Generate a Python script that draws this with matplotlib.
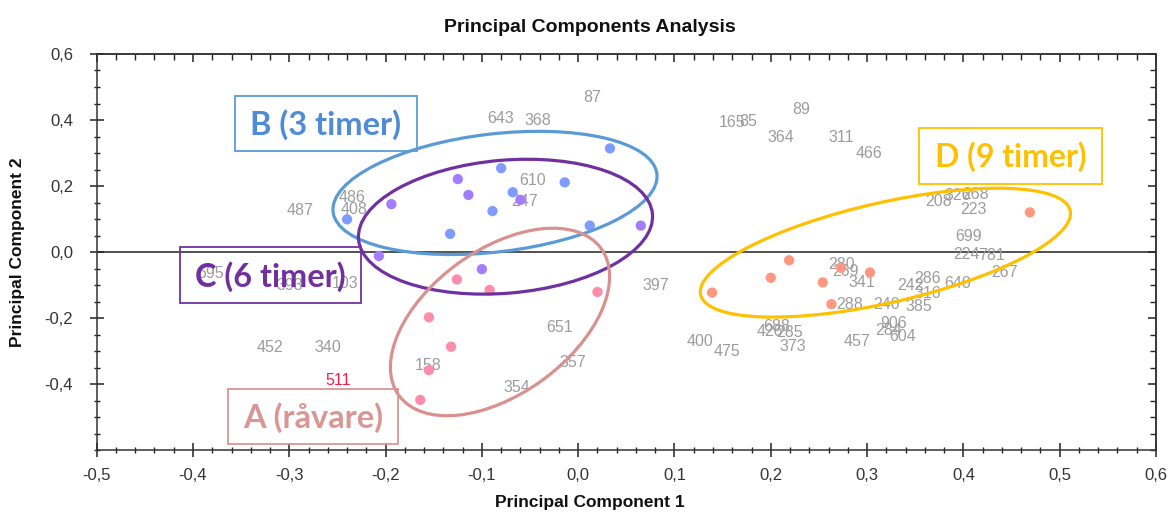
import matplotlib
matplotlib.use("Agg")
import matplotlib.pyplot as plt
from matplotlib.patches import Ellipse, Rectangle
from matplotlib.ticker import MultipleLocator, FixedLocator, FuncFormatter
from matplotlib.transforms import ScaledTranslation

# ---------------- data ----------------
b_x = [0.033, -0.080, -0.014, -0.068, -0.089, 0.012, -0.133, -0.240]
b_y = [0.314, 0.254, 0.211, 0.181, 0.124, 0.080, 0.055, 0.099]

c_x = [-0.125, -0.114, -0.194, -0.060, 0.065, -0.207, -0.100]
c_y = [0.221, 0.173, 0.145, 0.158, 0.080, -0.012, -0.052]

a_x = [-0.126, -0.092, 0.020, -0.155, -0.132, -0.155, -0.164]
a_y = [-0.083, -0.115, -0.121, -0.198, -0.287, -0.358, -0.448]

d_x = [0.139, 0.200, 0.219, 0.254, 0.263, 0.273, 0.303, 0.469]
d_y = [-0.123, -0.078, -0.025, -0.092, -0.158, -0.048, -0.062, 0.120]

lab_text = ["643", "368", "87", "610", "247", "486", "408", "487",
            "165", "85", "89", "364", "311", "466",
            "208", "326", "268", "223", "699", "224", "781", "267",
            "640", "286", "242", "316", "385", "397", "400", "475",
            "280", "269", "341", "288", "240", "906", "284", "604",
            "688", "426", "285", "373", "457",
            "651", "357", "158", "354", "695", "393", "103", "452", "340"]
lab_x = [-0.081, -0.042, 0.015, -0.047, -0.056, -0.235, -0.233, -0.289,
         0.160, 0.176, 0.232, 0.210, 0.273, 0.302,
         0.374, 0.394, 0.413, 0.410, 0.405, 0.403, 0.429, 0.443,
         0.394, 0.363, 0.345, 0.363, 0.354, 0.081, 0.126, 0.155,
         0.274, 0.278, 0.295, 0.282, 0.320, 0.327, 0.322, 0.337,
         0.206, 0.199, 0.220, 0.223, 0.289,
         -0.019, -0.006, -0.156, -0.064, -0.382, -0.299, -0.242, -0.320, -0.260]
lab_y = [0.406, 0.397, 0.467, 0.218, 0.152, 0.164, 0.130, 0.127,
         0.391, 0.394, 0.433, 0.348, 0.348, 0.297,
         0.152, 0.170, 0.173, 0.130, 0.048, -0.009, -0.012, -0.061,
         -0.094, -0.079, -0.100, -0.127, -0.164, -0.103, -0.270, -0.303,
         -0.039, -0.058, -0.091, -0.158, -0.158, -0.218, -0.239, -0.255,
         -0.227, -0.242, -0.245, -0.285, -0.270,
         -0.230, -0.336, -0.345, -0.412, -0.064, -0.100, -0.094, -0.288, -0.288]

red_text = "511"
red_x, red_y = -0.249, -0.388

x_ticks = [-0.5, -0.4, -0.3, -0.2, -0.1, 0.0, 0.1, 0.2, 0.3, 0.4, 0.5, 0.6]
y_ticks = [-0.4, -0.2, 0.0, 0.2, 0.4, 0.6]

title = "Principal Components Analysis"
xlabel = "Principal Component 1"
ylabel = "Principal Component 2"

# ---------------- figure ----------------
W, H = 1176, 515
fig = plt.figure(figsize=(W / 100, H / 100), dpi=100)
L, R, T, B = 96.7, 1156, 54, 450
ax = fig.add_axes([L / W, 1 - B / H, (R - L) / W, (B - T) / H])
ax.set_xlim(-0.5, 0.6)
ax.set_ylim(-0.6, 0.6)

tick_font = dict(family="Liberation Sans", size=12)
fmt = FuncFormatter(lambda v, p: ("%.1f" % v).replace(".", ",").replace("-0,0", "0,0"))
ax.xaxis.set_major_locator(FixedLocator(x_ticks))
ax.yaxis.set_major_locator(FixedLocator(y_ticks))
ax.xaxis.set_minor_locator(MultipleLocator(0.02))
ax.yaxis.set_minor_locator(MultipleLocator(0.05))
ax.xaxis.set_major_formatter(fmt)
ax.yaxis.set_major_formatter(fmt)
ax.tick_params(which="major", direction="inout", length=10, width=1.1, color="#222222",
               labelsize=12, labelcolor="#333333")
ax.tick_params(axis="x", which="major", pad=8)
ax.tick_params(axis="y", which="major", pad=12)
ax.tick_params(which="minor", direction="inout", length=5, width=1.0, color="#222222")
for lbl in ax.get_xticklabels() + ax.get_yticklabels():
    lbl.set_fontfamily("Liberation Sans")
for s in ax.spines.values():
    s.set_linewidth(1.1)
    s.set_color("#333333")

# top / right inward ticks
sx = ax.secondary_xaxis("top")
sx.xaxis.set_major_locator(FixedLocator(x_ticks))
sx.xaxis.set_minor_locator(MultipleLocator(0.02))
sx.tick_params(which="major", direction="in", length=6, width=1.1, color="#222222", labeltop=False)
sx.tick_params(which="minor", direction="in", length=4, width=1.0, color="#222222")
sy = ax.secondary_yaxis("right")
sy.yaxis.set_major_locator(FixedLocator(y_ticks))
sy.yaxis.set_minor_locator(MultipleLocator(0.05))
sy.tick_params(which="major", direction="in", length=6, width=1.1, color="#222222", labelright=False)
sy.tick_params(which="minor", direction="in", length=4, width=1.0, color="#222222")
for s in list(sx.spines.values()) + list(sy.spines.values()):
    s.set_linewidth(1.1)
    s.set_color("#333333")

ax.axhline(0, color="#222222", lw=1.1, zorder=1)

# labels
for t, x, y in zip(lab_text, lab_x, lab_y):
    ax.text(x, y, t, ha="center", va="center", fontsize=11.5, family="Liberation Sans",
            color="#9c9c9c", zorder=2)
ax.text(red_x, red_y, red_text, ha="center", va="center", fontsize=11.5,
        family="Liberation Sans", color="#ff1a4d", zorder=2)

# points
ms = 55
ax.scatter(b_x, b_y, s=ms, color="#7f9bff", edgecolors="none", zorder=3)
ax.scatter(c_x, c_y, s=ms, color="#a27dff", edgecolors="none", zorder=3)
ax.scatter(a_x, a_y, s=ms, color="#ff8daa", edgecolors="none", zorder=3)
ax.scatter(d_x, d_y, s=ms, color="#ff9880", edgecolors="none", zorder=3)

# ellipses: centre in data coords, size in pixels
ellipses = [
    ((-0.0864, 0.179), 326, 118, 6.7, "#5b9bd5"),
    ((-0.0755, 0.0767), 295, 133, 4.9, "#7030a0"),
    ((-0.0812, -0.212), 250, 144, 36.0, "#d8918e"),
    ((0.319, -0.002), 379, 100, 12.85, "#ffc000"),
]
for (cx, cy), w, h, ang, col in ellipses:
    tr = fig.dpi_scale_trans + ScaledTranslation(cx, cy, ax.transData)
    e = Ellipse((0, 0), w / 100, h / 100, angle=ang, transform=tr, fill=False,
                edgecolor=col, lw=2.3, zorder=4)
    ax.add_patch(e)

# group boxes (pixel coords)
boxes = [
    ("B (3 timer)", (235, 95.7, 416.7, 150.7), 151, "#5b9bd5", "#4f8bd6"),
    ("C (6 timer)", (180, 247.3, 360.7, 303.3), 150, "#7030a0", "#7030a0"),
    ("A (råvare)", (228, 389, 398, 444), 140, "#d99694", "#d99694"),
    ("D (9 timer)", (919, 127.7, 1102.3, 183.6), 152, "#ffc000", "#ffc000"),
]
texts = []
for txt, (x0, y0, x1, y1), tw, ecol, tcol in boxes:
    rect = Rectangle((x0 / W, 1 - y1 / H), (x1 - x0) / W, (y1 - y0) / H,
                     transform=fig.transFigure, fill=False, edgecolor=ecol, lw=1.3, zorder=6)
    fig.add_artist(rect)
    t = fig.text((x0 + x1) / 2 / W, 1 - ((y0 + y1) / 2 + 1) / H, txt, ha="center", va="center",
                 fontsize=22, family="Lato", fontweight="bold", color=tcol, zorder=7)
    texts.append((t, tw))

fig.text(590 / W, 1 - 27 / H, title, ha="center", va="center", fontsize=14,
         family="Liberation Sans", fontweight="bold", color="#111111")
fig.text(590 / W, 1 - 503 / H, xlabel, ha="center", va="center", fontsize=12.5,
         family="Liberation Sans", fontweight="bold", color="#111111")
fig.text(18 / W, 1 - 252 / H, ylabel, ha="center", va="center", fontsize=12.5, rotation=90,
         family="Liberation Sans", fontweight="bold", color="#111111")

fig.canvas.draw()
r = fig.canvas.get_renderer()
for t, tw in texts:
    w = t.get_window_extent(r).width
    t.set_fontsize(t.get_fontsize() * tw / w)

fig.savefig("out.png", dpi=100)
